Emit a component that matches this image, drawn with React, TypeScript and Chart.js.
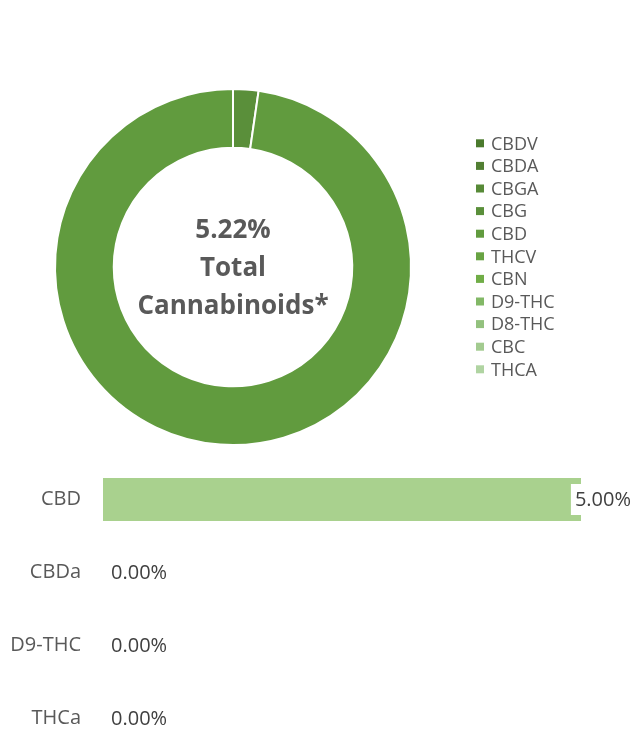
import React, { useEffect, useRef } from "react";
import { Chart, registerables } from "chart.js";

Chart.register(...registerables);

const FONT = '"Open Sans", sans-serif';

const donutLabels = ["CBDV", "CBDA", "CBGA", "CBG", "CBD", "THCV", "CBN", "D9-THC", "D8-THC", "CBC", "THCA"];
const donutValues = [0, 0, 0, 0.12, 5.1, 0, 0, 0, 0, 0, 0];
const donutColors = [
  "#4b7a2d", "#527f33", "#578a37", "#5a8f3a", "#619b3e", "#68a343",
  "#70ad47", "#82b866", "#93c17e", "#a3cb90", "#b0d4a2",
];
const centerLines = ["5.22%", "Total", "Cannabinoids*"];

const barCategories = ["CBD", "CBDa", "D9-THC", "THCa"];
const barValues = [5.0, 0, 0, 0];
const barColor = "#a9d18e";

const donutExtras = {
  id: "donutExtras",
  afterDraw(chart: any) {
    const ctx = chart.ctx;
    const { left, right, top, bottom } = chart.chartArea;
    const cx = (left + right) / 2;
    const cy = (top + bottom) / 2;
    ctx.save();
    ctx.fillStyle = "#595959";
    ctx.font = `bold 26px ${FONT}`;
    ctx.textAlign = "center";
    ctx.textBaseline = "middle";
    centerLines.forEach((t, i) => ctx.fillText(t, cx, cy + (i - 1) * 38 + 1.5));
    const ds = chart.data.datasets[0];
    ctx.font = `18px ${FONT}`;
    ctx.textAlign = "left";
    chart.data.labels.forEach((lab: string, i: number) => {
      const y = 143.3 + i * 22.6;
      ctx.fillStyle = ds.backgroundColor[i];
      ctx.fillRect(476, y - 4, 8, 8);
      ctx.fillStyle = "#595959";
      ctx.fillText(lab, 491, y + 1.2);
    });
    ctx.restore();
  },
};

const barLabels = {
  id: "barLabels",
  afterDatasetsDraw(chart: any) {
    const ctx = chart.ctx;
    const meta = chart.getDatasetMeta(0);
    ctx.save();
    ctx.font = `20px ${FONT}`;
    ctx.textBaseline = "middle";
    ctx.textAlign = "left";
    meta.data.forEach((bar: any, i: number) => {
      const v = chart.data.datasets[0].data[i] as number;
      const text = v.toFixed(2) + "%";
      const w = ctx.measureText(text).width;
      let x = bar.x + 8;
      if (x + w > chart.width - 1) {
        x = chart.width - 1 - w;
        ctx.fillStyle = "#ffffff";
        ctx.fillRect(x - 4, bar.y - 15.5, w + 8, 31);
      }
      ctx.fillStyle = "#404040";
      ctx.fillText(text, x, bar.y + 1);
    });
    ctx.restore();
  },
};

export default function App() {
  const donutRef = useRef<HTMLCanvasElement | null>(null);
  const barRef = useRef<HTMLCanvasElement | null>(null);

  useEffect(() => {
    const donut = new Chart(donutRef.current as HTMLCanvasElement, {
      type: "doughnut",
      data: {
        labels: donutLabels,
        datasets: [
          {
            data: donutValues,
            backgroundColor: donutColors,
            borderColor: "#ffffff",
            borderWidth: 2,
          },
        ],
      },
      options: {
        responsive: false,
        animation: false,
        radius: 178,
        cutout: "67%",
        layout: { padding: { left: 0, right: 166, top: 74, bottom: 0 } },
        plugins: { legend: { display: false }, tooltip: { enabled: false } },
      } as any,
      plugins: [donutExtras],
    });

    const bar = new Chart(barRef.current as HTMLCanvasElement, {
      type: "bar",
      data: {
        labels: barCategories,
        datasets: [
          {
            data: barValues,
            backgroundColor: barColor,
            borderWidth: 0,
            barPercentage: 0.59,
            categoryPercentage: 1,
          },
        ],
      },
      options: {
        responsive: false,
        animation: false,
        indexAxis: "y",
        layout: { padding: { left: 0, right: 51, top: 0, bottom: 0 } },
        scales: {
          x: { display: false, min: 0, max: 5 },
          y: {
            grid: { display: false, drawTicks: false },
            border: { display: false },
            ticks: {
              padding: 22,
              color: "#595959",
              font: { family: FONT, size: 20 },
            },
            afterFit: (scale: any) => {
              scale.width = 103;
            },
          },
        },
        plugins: { legend: { display: false }, tooltip: { enabled: false } },
      } as any,
      plugins: [barLabels],
    });

    return () => {
      donut.destroy();
      bar.destroy();
    };
  }, []);

  return (
    <div
      style={{
        position: "fixed",
        top: 0,
        left: 0,
        width: 632,
        height: 730,
        overflow: "hidden",
        background: "#ffffff",
      }}
    >
      <canvas
        ref={donutRef}
        width={632}
        height={460}
        style={{ position: "absolute", left: 0, top: 0, width: 632, height: 460 }}
      />
      <canvas
        ref={barRef}
        width={632}
        height={360}
        style={{ position: "absolute", left: 0, top: 429, width: 632, height: 360 }}
      />
    </div>
  );
}
